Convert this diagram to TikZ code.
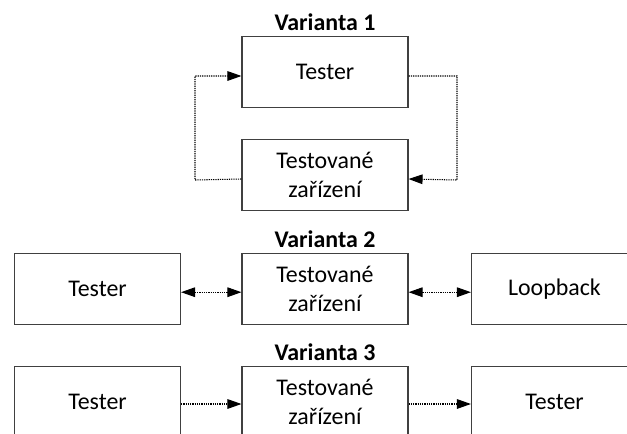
\documentclass[tikz,border=0pt]{standalone}
\usepackage{fontspec}
\setmainfont{Carlito}
\usetikzlibrary{positioning,arrows.meta}
\begin{document}
\begin{tikzpicture}[
x=0.025cm, y=-0.025cm,
box/.style={rectangle, draw=black!75, line width=0.75pt, minimum width=4.15cm, minimum height=1.78cm, align=center, font=\fontsize{17}{21}\selectfont},
title/.style={font=\fontsize{17}{19}\selectfont\bfseries, inner sep=1pt},
link/.style={dash pattern=on 0.9pt off 0.7pt, line width=0.75pt, -{Triangle[length=3.5mm, width=2.4mm]}},
both/.style={link, {Triangle[length=3.5mm, width=2.4mm]}-{Triangle[length=3.5mm, width=2.4mm]}},
]
\clip (0, 0) rectangle (627, 434);

%Varianta 1
\node[box] (testerA) at (325, 72) {Tester};
\node[box] (dutA) at (325, 175) {Testované\\zařízení};
\node[title, above=1mm of testerA] (titleA) {Varianta 1};
\coordinate (aR1) at (457, 76);
\coordinate (aR2) at (457, 180);
\coordinate (aL1) at (195, 180);
\coordinate (aL2) at (195, 76);
\draw[link] ([yshift=-0.1cm]testerA.east) -- (aR1) -- (aR2) -- ([yshift=-0.1cm]dutA.east);
\draw[link] ([yshift=-0.1cm]dutA.west) -- (aL1) -- (aL2) -- ([yshift=-0.1cm]testerA.west);

%Varianta 2
\node[box] (testerB) at (97.5, 289) {Tester};
\node[box] (dutB) at (325, 289) {Testované\\zařízení};
\node[box] (loopB) at (554.5, 289) {Loopback};
\node[title, above=1mm of dutB] (titleB) {Varianta 2};
\draw[both] ([yshift=-0.08cm]testerB.east) -- ([yshift=-0.08cm]dutB.west);
\draw[both] ([yshift=-0.08cm]dutB.east) -- ([yshift=-0.08cm]loopB.west);

%Varianta 3
\node[box] (testerC) at (97.5, 402) {Tester};
\node[box] (dutC) at (325, 402) {Testované\\zařízení};
\node[box] (testerD) at (554.5, 402) {Tester};
\node[title, above=1mm of dutC] (titleC) {Varianta 3};
\draw[link] ([yshift=-0.05cm]testerC.east) -- ([yshift=-0.05cm]dutC.west);
\draw[link] ([yshift=-0.05cm]dutC.east) -- ([yshift=-0.05cm]testerD.west);
\end{tikzpicture}
\end{document}
